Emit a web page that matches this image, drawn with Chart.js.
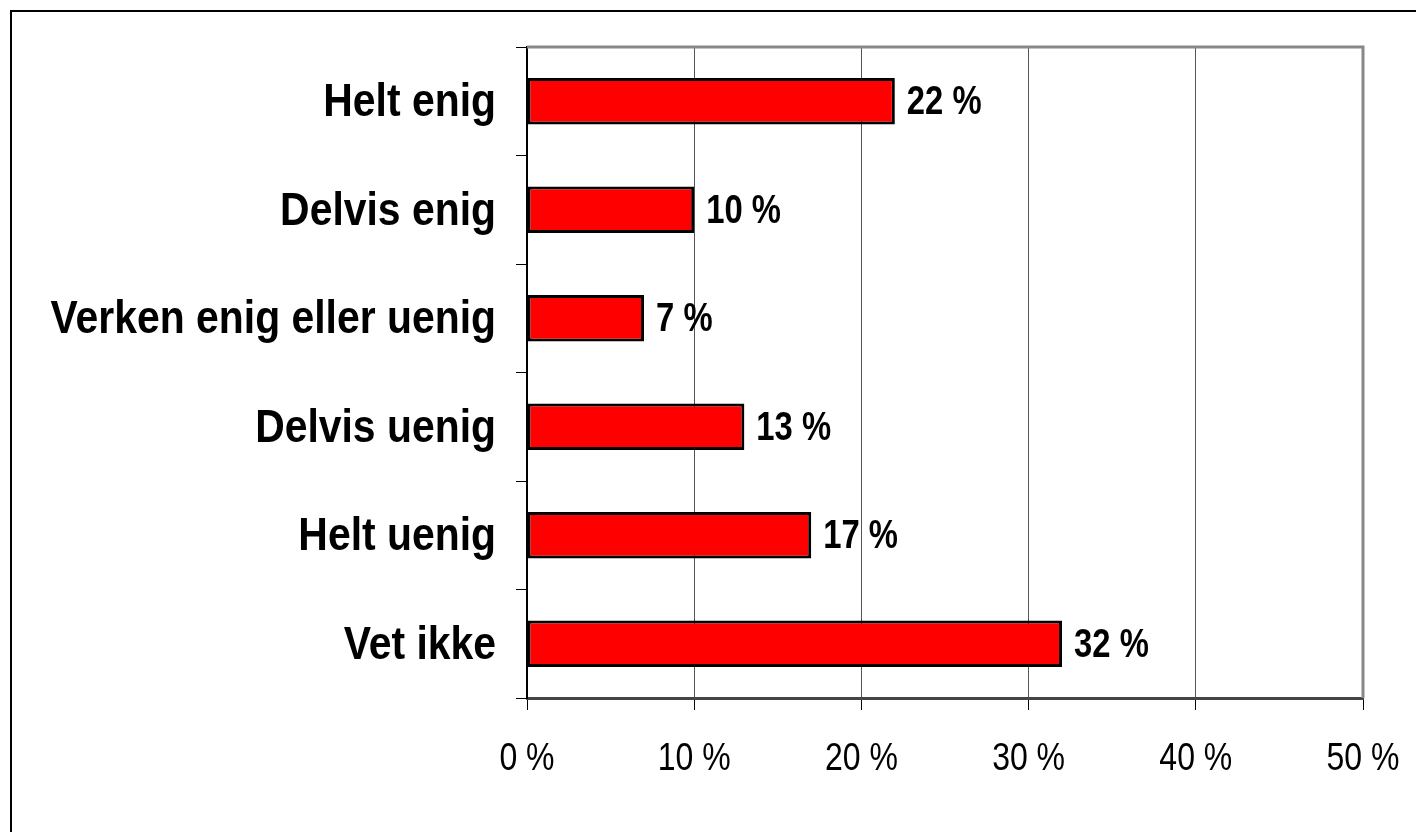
<!DOCTYPE html>
<html>
<head>
<meta charset="utf-8">
<script src="https://cdn.jsdelivr.net/npm/chart.js@4/dist/chart.umd.min.js"></script>
<style>
  html, body { margin: 0; padding: 0; background: #fff; }
  #wrap { width: 1416px; height: 832px; }
</style>
</head>
<body>
<div id="wrap"><canvas id="grafico"></canvas></div>
<script>
const categorias = ['Helt enig', 'Delvis enig', 'Verken enig eller uenig', 'Delvis uenig', 'Helt uenig', 'Vet ikke'];
const valores = [22, 10, 7, 13, 17, 32];
const xTicks = [0, 10, 20, 30, 40, 50];

const FONT = '"Liberation Sans", Arial, sans-serif';

// tekst i "Arial Narrow"-stil: vanlig Arial presset sammen horisontalt
function smalTekst(ctx, txt, x, y, font, align, sx) {
  ctx.save();
  ctx.font = font;
  ctx.textBaseline = 'alphabetic';
  ctx.textAlign = 'left';
  const w = ctx.measureText(txt).width * sx;
  let x0 = x;
  if (align === 'right') x0 = x - w;
  if (align === 'center') x0 = x - w / 2;
  ctx.translate(x0, y);
  ctx.scale(sx, 1);
  ctx.fillText(txt, 0, 0);
  ctx.restore();
}

// ramme rundt hele diagrammet, grå kant i plottet og all tekst
const ekstra = {
  id: 'ekstra',
  afterDraw(chart) {
    const ctx = chart.ctx;
    const a = chart.chartArea;
    ctx.save();
    ctx.strokeStyle = '#000';
    ctx.lineWidth = 2;
    ctx.beginPath();
    ctx.moveTo(11, 840);
    ctx.lineTo(11, 11);
    ctx.lineTo(1420, 11);
    ctx.stroke();

    ctx.strokeStyle = '#888';
    ctx.lineWidth = 3;
    ctx.beginPath();
    ctx.moveTo(a.left, a.top);
    ctx.lineTo(a.right, a.top);
    ctx.lineTo(a.right, a.bottom);
    ctx.stroke();
    ctx.fillStyle = '#000';

    // kategorier
    const yAx = chart.scales.y;
    categorias.forEach((c, i) => {
      const y = yAx.getPixelForTick(i);
      smalTekst(ctx, c, a.left - 31, y + 15, 'bold 47px ' + FONT, 'right', 0.87);
    });

    // x-akse
    const xAx = chart.scales.x;
    xTicks.forEach(v => {
      smalTekst(ctx, v + ' %', xAx.getPixelForValue(v), 770, '39px ' + FONT, 'center', 0.82);
    });

    // verdier
    const meta = chart.getDatasetMeta(0);
    meta.data.forEach((bar, i) => {
      smalTekst(ctx, valores[i] + ' %', bar.x + 12, bar.y + 13, 'bold 40px ' + FONT, 'left', 0.82);
    });
    ctx.restore();
  }
};

new Chart(document.getElementById('grafico'), {
  type: 'bar',
  data: {
    labels: categorias,
    datasets: [{
      data: valores,
      backgroundColor: '#ff0000',
      borderColor: '#000',
      borderWidth: 3,
      borderSkipped: false,
      barPercentage: 0.43,
      categoryPercentage: 1
    }]
  },
  options: {
    indexAxis: 'y',
    responsive: true,
    maintainAspectRatio: false,
    animation: false,
    layout: { padding: { top: 47, right: 53, bottom: 0, left: 0 } },
    plugins: { legend: { display: false }, tooltip: { enabled: false } },
    scales: {
      x: {
        min: 0,
        max: 50,
        afterBuildTicks: axis => { axis.ticks = xTicks.map(v => ({ value: v })); },
        afterFit: axis => { axis.height = 832 - 698; },
        grid: { color: '#555', lineWidth: 1, tickLength: 12, tickColor: '#000' },
        border: { color: '#444', width: 3 },
        ticks: { display: false }
      },
      y: {
        afterFit: axis => { axis.width = 527; },
        grid: { drawOnChartArea: false, tickLength: 11, tickColor: '#000', offset: true },
        border: { color: '#000', width: 2 },
        ticks: { display: false }
      }
    }
  },
  plugins: [ekstra]
});
</script>
</body>
</html>
